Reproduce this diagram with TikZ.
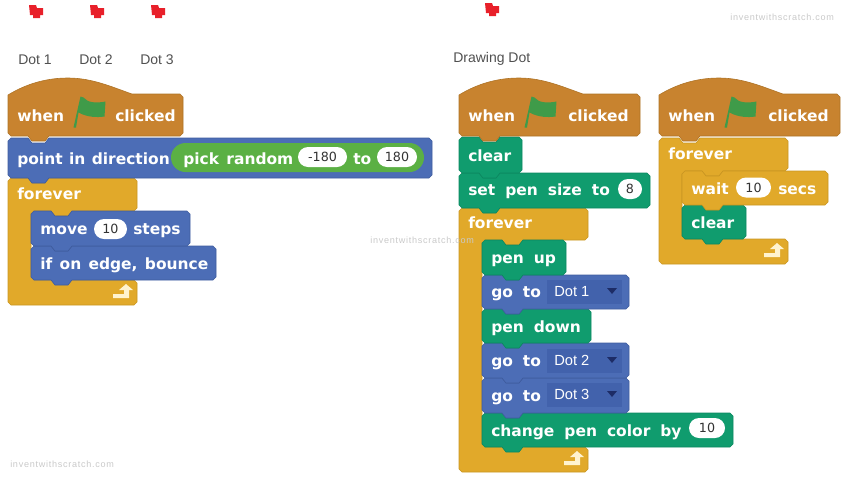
\documentclass[tikz,border=0pt]{standalone}
\usepackage{fontspec}
\usetikzlibrary{shapes.misc}
\setmainfont{Liberation Sans}
\newfontfamily\blockfont{DejaVu Sans Bold}
\newfontfamily\pillfont{DejaVu Sans}
\newfontfamily\markfont[LetterSpace=8]{Liberation Sans}
\newcommand{\wordgap}[1]{\spaceskip=#1\relax}
\definecolor{hatColor}{HTML}{C8832F}
\definecolor{hatEdge}{HTML}{AE7326}
\definecolor{motionColor}{HTML}{4C6DB6}
\definecolor{motionEdge}{HTML}{3F5C9E}
\definecolor{penColor}{HTML}{109C6E}
\definecolor{penEdge}{HTML}{0C8860}
\definecolor{controlColor}{HTML}{E1A92A}
\definecolor{controlEdge}{HTML}{C99622}
\definecolor{reporterColor}{HTML}{5BB044}
\definecolor{flagColor}{HTML}{3F9B49}
\definecolor{dotColor}{HTML}{E8202A}
\definecolor{dropColor}{HTML}{4262AC}
\definecolor{dropArrow}{HTML}{1D2C66}
\definecolor{labelColor}{HTML}{505050}
\definecolor{markColor}{HTML}{C9C9C9}
\definecolor{arrowColor}{HTML}{FFF3CF}
% stack block: colour, left, top, right, bottom
\newcommand{\stackblock}[5]{
  \filldraw[fill=#1Color,draw=#1Edge,line width=.45pt]
    (#2+3,#3) -- (#2+20,#3) -- (#2+24,#3+5) -- (#2+37,#3+5) -- (#2+41,#3)
    -- (#4-3,#3) -- (#4,#3+3) -- (#4,#5-3) -- (#4-3,#5)
    -- (#2+41,#5) -- (#2+37,#5+5) -- (#2+24,#5+5) -- (#2+20,#5)
    -- (#2+3,#5) -- (#2,#5-3) -- (#2,#3+3) -- cycle;
}
% hat block: left, right
\newcommand{\hatblock}[2]{
  \filldraw[fill=hatColor,draw=hatEdge,line width=.45pt]
    (#1,95) .. controls (#1+18,84) and (#1+38,78) .. (#1+60,78)
    .. controls (#1+84,78) and (#1+104,87) .. (#1+124,94)
    -- (#2-3,94) -- (#2,97) -- (#2,133) -- (#2-3,136)
    -- (#1+41,136) -- (#1+37,141) -- (#1+24,141) -- (#1+20,136)
    -- (#1+3,136) -- (#1,133) -- cycle;
  \begin{scope}[shift={(#1+65.5,127.5)}]
    \fill[flagColor] (0,0) -- (7,-31) -- (10,-30) .. controls (14,-25) and (22,-24) .. (32,-26)
      -- (31,-11) .. controls (24,-10) and (14,-10) .. (5,-15) -- (2.5,0) -- cycle;
  \end{scope}
}
% forever block: left, top, arm right, arm bottom, foot top, foot bottom
\newcommand{\foreverblock}[6]{
  \filldraw[fill=controlColor,draw=controlEdge,line width=.45pt]
    (#1+3,#2) -- (#1+20,#2) -- (#1+24,#2+5) -- (#1+37,#2+5) -- (#1+41,#2)
    -- (#3-3,#2) -- (#3,#2+3) -- (#3,#4-3) -- (#3-3,#4)
    -- (#1+64,#4) -- (#1+60,#4+5) -- (#1+47,#4+5) -- (#1+43,#4)
    -- (#1+26,#4) -- (#1+23,#4+3) -- (#1+23,#5-3) -- (#1+26,#5)
    -- (#3-3,#5) -- (#3,#5+3) -- (#3,#6-3) -- (#3-3,#6)
    -- (#1+3,#6) -- (#1,#6-3) -- (#1,#2+3) -- cycle;
  \fill[arrowColor] (#3-24,#6-7) -- (#3-8,#6-7) -- (#3-8,#6-15) -- (#3-4,#6-15)
    -- (#3-11,#6-21) -- (#3-18,#6-15) -- (#3-13,#6-15) -- (#3-13,#6-11)
    -- (#3-24,#6-11) -- cycle;
}
% red dot sprite: left, top
\newcommand{\reddot}[2]{
  \fill[dotColor] (#1,#2+1) -- (#1+7,#2+1) -- (#1+8,#2+4) -- (#1+14,#2+4) -- (#1+14,#2+11)
    -- (#1+11,#2+11) -- (#1+11,#2+14) -- (#1+4,#2+14) -- (#1+4,#2+11) -- (#1+1,#2+11) -- cycle;
}
% drop-down: name, left, top, text
\newcommand{\dropbox}[4]{
  \fill[dropColor] (#2,#3) rectangle (#2+75,#3+24);
  \node[dropText] (#1) at (#2+7,#3+16) {#4};
  \fill[dropArrow] (#2+60,#3+8) -- (#2+70,#3+8) -- (#2+65,#3+14) -- cycle;
}
\begin{document}
\begin{tikzpicture}[x=.75pt,y=-.75pt]

  \tikzstyle{blockText} = [text=white,font=\blockfont\fontsize{11.6}{14}\selectfont\wordgap{7.5pt},anchor=base west,inner sep=0pt];
  \tikzstyle{tightText} = [blockText,font=\blockfont\fontsize{11.6}{14}\selectfont\wordgap{5.5pt}];
  \tikzstyle{pointText} = [blockText,font=\blockfont\fontsize{11.6}{14}\selectfont\wordgap{4.8pt}];
  \tikzstyle{labelText} = [text=labelColor,font=\fontsize{10.5}{12}\selectfont,anchor=base west,inner sep=0pt];
  \tikzstyle{dropText} = [text=white,font=\fontsize{11}{12}\selectfont,anchor=base west,inner sep=0pt];
  \tikzstyle{markText} = [text=markColor,font=\markfont\fontsize{6.8}{8}\selectfont,anchor=base west,inner sep=0pt];
  \tikzstyle{numberPill} = [rounded rectangle,fill=white,text=black!80,font=\pillfont\fontsize{9.5}{11}\selectfont,inner sep=0pt,minimum height=15pt];

  \useasboundingbox (0,0) rectangle (846,479);

  \reddot{29}{4}
  \reddot{90}{4}
  \reddot{151}{4}
  \reddot{485}{2}

  \node[labelText] (dotOne) at (18,64) {Dot 1};
  \node[labelText] (dotTwo) at (79,64) {Dot 2};
  \node[labelText] (dotThree) at (140,64) {Dot 3};
  \node[labelText] (drawingDot) at (453,62) {Drawing Dot};

  % sprite blocks
  \foreverblock{8}{178}{137}{211}{280}{305}
  \stackblock{motion}{31}{246}{216}{280}
  \stackblock{motion}{31}{211}{190}{246}
  \stackblock{motion}{8}{138}{432}{178}
  \hatblock{8}{183}

  \node[blockText] (whenA) at (17,121) {when};
  \node[blockText] (clickedA) at (115,121) {clicked};
  \node[pointText] (pointDir) at (17,164) {point in direction};
  \node[rounded rectangle,fill=reporterColor,inner sep=0pt,minimum width=189.75pt,minimum height=21.75pt] (randomBox) at (297.5,157.5) {};
  \node[tightText] (pickRandom) at (183,164) {pick random};
  \node[numberPill,minimum width=36.75pt] (lowVal) at (322.5,157) {-180};
  \node[blockText] (toWord) at (353,164) {to};
  \node[numberPill,minimum width=30pt] (highVal) at (397,157) {180};
  \node[blockText] (foreverA) at (17,199) {forever};
  \node[blockText] (moveWord) at (40,234) {move};
  \node[numberPill,minimum width=24.75pt] (moveVal) at (110.5,229) {10};
  \node[blockText] (stepsWord) at (133,234) {steps};
  \node[tightText] (bounceWord) at (40,269) {if on edge, bounce};

  % drawing dot, main stack
  \foreverblock{459}{208}{588}{240}{447}{472}
  \stackblock{pen}{482}{413}{733}{447}
  \stackblock{motion}{482}{378}{629}{413}
  \stackblock{motion}{482}{343}{629}{378}
  \stackblock{pen}{482}{309}{591}{343}
  \stackblock{motion}{482}{275}{629}{309}
  \stackblock{pen}{482}{240}{566}{275}
  \stackblock{pen}{459}{173}{650}{208}
  \stackblock{pen}{459}{137}{522}{173}
  \hatblock{459}{640}

  \node[blockText] (whenB) at (468,121) {when};
  \node[blockText] (clickedB) at (568,121) {clicked};
  \node[blockText] (clearB) at (468,161) {clear};
  \node[blockText] (penSize) at (468,195) {set pen size to};
  \node[numberPill,minimum width=18pt] (sizeVal) at (630,189) {8};
  \node[blockText] (foreverB) at (468,228) {forever};
  \node[blockText] (penUp) at (491,263) {pen up};
  \node[blockText] (goOne) at (491,297) {go to};
  \dropbox{dropOne}{547}{280}{Dot 1}
  \node[blockText] (penDown) at (491,332) {pen down};
  \node[blockText] (goTwo) at (491,366) {go to};
  \dropbox{dropTwo}{547}{349}{Dot 2}
  \node[blockText] (goThree) at (491,401) {go to};
  \dropbox{dropThree}{547}{383}{Dot 3}
  \node[blockText] (changePen) at (491,436) {change pen color by};
  \node[numberPill,minimum width=27pt] (colorVal) at (707,428) {10};

  % drawing dot, clear stack
  \foreverblock{659}{138}{788}{171}{239}{264}
  \stackblock{pen}{682}{205}{746}{239}
  \stackblock{control}{682}{171}{828}{205}
  \hatblock{659}{840}

  \node[blockText] (whenC) at (668,121) {when};
  \node[blockText] (clickedC) at (768,121) {clicked};
  \node[blockText] (foreverC) at (668,159) {forever};
  \node[blockText] (waitWord) at (691,194) {wait};
  \node[numberPill,minimum width=26.25pt] (waitVal) at (753.5,187.5) {10};
  \node[blockText] (secsWord) at (778,194) {secs};
  \node[blockText] (clearC) at (691,228) {clear};

  \node[markText] (markTop) at (730,20) {inventwithscratch.com};
  \node[markText] (markMid) at (370,243) {inventwithscratch.com};
  \node[markText] (markLow) at (10,467) {inventwithscratch.com};

\end{tikzpicture}
\end{document}
